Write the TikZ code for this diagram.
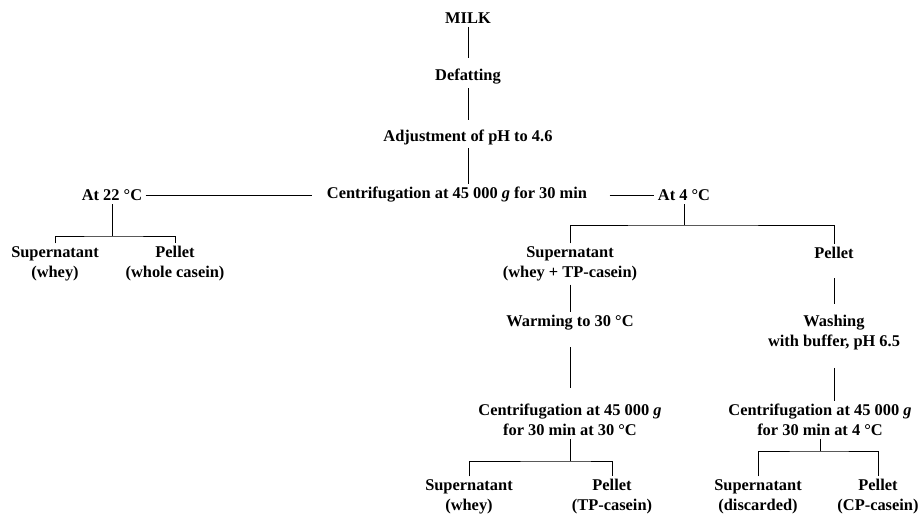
\documentclass[tikz,border=0pt]{standalone}
\usepackage{fontspec}
\setmainfont{Liberation Serif}
\begin{document}
\begin{tikzpicture}[x=1pt, y=-1pt, line width=1pt,
  every node/.style={font=\fontsize{16.4}{20}\selectfont\bfseries, inner sep=3pt, align=center}]
  \useasboundingbox (0,0) rectangle (921,515);
  % Main line
  \node (milk) at (468,18) {MILK};
  \node (defat) at (468,77) {Defatting};
  \node (adjust) at (468,137) {Adjustment of pH to 4.6};
  \node (centA) at (457,195) {Centrifugation at 45~000 \textit{g} for 30 min};
  \node (at22) at (112,195) {At 22~°C};
  \node (at4) at (684,195) {At 4~°C};
  \draw[shorten >=8pt] (milk) -- (defat);
  \draw[shorten >=6pt] (defat) -- (adjust);
  \draw (adjust) -- (adjust |- centA.north);
  \draw[shorten >=11pt] (at22) -- (centA);
  \draw[shorten <=19pt] (centA) -- (at4);
    % Separation at 22 C
    \node (supA) at (55,264) {Supernatant\\(whey)};
    \node (pelA) at (175,264) {Pellet\\(whole casein)};
    \coordinate (forkA) at (at22 |- 0,236);
    \draw (at22) -- (forkA);
    \draw (supA) |- (forkA) -| (pelA);
    % Separation at 4 C
    \node (supB) at (570,264) {Supernatant\\(whey + TP-casein)};
    \node (pelB) at (834,253) {Pellet};
    \coordinate (forkB) at (at4 |- 0,225);
    \draw (at4) -- (forkB);
    \draw (supB) |- (forkB) -| (pelB);
    % Supernatant branch
    \node (warm) at (570,323) {Warming to 30~°C};
    \node (centB) at (570,420) {Centrifugation at 45~000 \textit{g}\\for 30 min at 30~°C};
    \node (supC) at (469,497) {Supernatant\\(whey)};
    \node (pelC) at (612,497) {Pellet\\(TP-casein)};
    \coordinate (forkC) at (centB |- 0,461);
    \draw (supB) -- (warm);
    \draw[shorten <=13pt, shorten >=13pt] (warm) -- (centB);
    \draw (centB) -- (forkC);
    \draw (supC) |- (forkC) -| (pelC);
    % Pellet branch
    \node (wash) at (834,333) {Washing\\with buffer, pH 6.5};
    \node (centC) at (820,420) {Centrifugation at 45~000 \textit{g}\\for 30 min at 4~°C};
    \node (supD) at (758,497) {Supernatant\\(discarded)};
    \node (pelD) at (878,497) {Pellet\\(CP-casein)};
    \coordinate (forkD) at (centC |- 0,451);
    \draw[shorten <=16pt, shorten >=8pt] (pelB) -- (wash);
    \draw[shorten <=14pt] (wash) -- (wash |- centC.north);
    \draw (centC) -- (forkD);
    \draw (supD) |- (forkD) -| (pelD);
\end{tikzpicture}
\end{document}
